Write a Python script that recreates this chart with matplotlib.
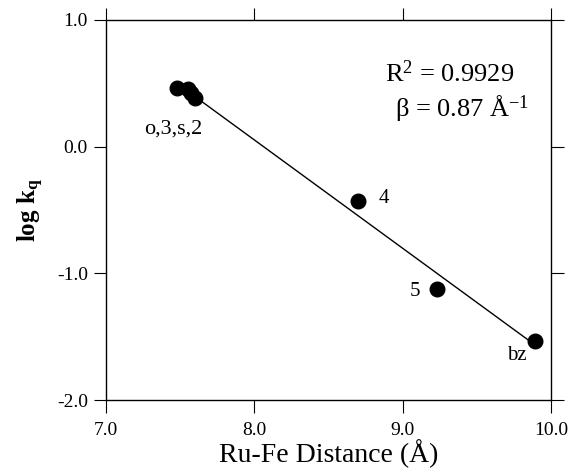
import numpy as np
import matplotlib
matplotlib.use("Agg")
import matplotlib.pyplot as plt

plt.rcParams['font.family'] = ['Liberation Serif', 'DejaVu Serif']
plt.rcParams['mathtext.fontset'] = 'custom'
plt.rcParams['mathtext.rm'] = 'Liberation Serif'
plt.rcParams['mathtext.it'] = 'Liberation Serif:italic'
plt.rcParams['mathtext.bf'] = 'Liberation Serif:bold'

# Ru-Fe distance (A) and log kq
distance = [7.48, 7.55, 7.57, 7.60, 8.70, 9.23, 9.89]
log_kq = [0.46, 0.455, 0.425, 0.385, -0.43, -1.12, -1.535]

# point labels
labels = ["o,3,s,2", "4", "5", "bz"]
label_x = [7.45, 8.87, 9.085, 9.77]
label_y = [0.14, -0.41, -1.14, -1.65]
label_size = [16, 15, 15, 15]

xticks = [7.0, 8.0, 9.0, 10.0]
yticks = [-2.0, -1.0, 0.0, 1.0]

fig = plt.figure(figsize=(5.7, 4.73), dpi=100)
ax = fig.add_axes([0.186, 0.154, 0.781, 0.804])

# least squares line
slope, icept = np.polyfit(distance, log_kq, 1)
xl = np.array([min(distance), max(distance)])
ax.plot(xl, slope * xl + icept, color='black', lw=1.0, zorder=1)

ax.scatter(distance, log_kq, s=110, color='black', zorder=2)

for t, x, y, fs in zip(labels, label_x, label_y, label_size):
    ax.text(x, y, t, fontsize=fs, ha='center', va='center')

ax.text(8.883, 0.51, 'R$^2$ = 0.9929', fontsize=19, ha='left', va='baseline')
ax.text(8.95, 0.235, 'β = 0.87 Å$^{-1}$', fontsize=19, ha='left', va='baseline')

ax.set_xlim(7.0, 10.0)
ax.set_ylim(-2.0, 1.0)
ax.set_xticks(xticks)
ax.set_yticks(yticks)
ax.set_xticklabels([f"{v:.1f}" for v in xticks])
ax.set_yticklabels([f"{v:.1f}" for v in yticks])
ax.tick_params(axis='x', direction='out', top=True, length=9, labelsize=14, pad=7)
ax.tick_params(axis='y', direction='out', right=True, length=9, labelsize=14, pad=4)
for s in ax.spines.values():
    s.set_linewidth(1.0)

ax.set_xlabel("Ru-Fe Distance (Å)", fontsize=20, labelpad=0)
ax.set_ylabel(r"log k$_{\mathbf{q}}$", fontsize=18, fontweight='bold', labelpad=8)

fig.savefig("out.png", dpi=100)
